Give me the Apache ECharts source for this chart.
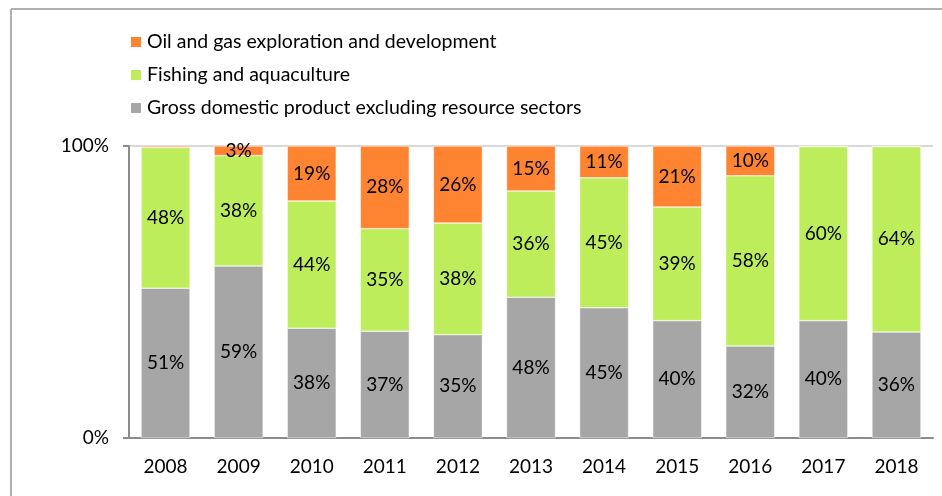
<!DOCTYPE html>
<html>
<head>
<meta charset="utf-8">
<script src="https://cdn.jsdelivr.net/npm/echarts@6/dist/echarts.min.js"></script>
<style>
  html, body { margin: 0; padding: 0; background: #fff; }
  #chart { width: 942px; height: 496px; }
</style>
</head>
<body>
<div id="chart"></div>
<script>
// values (share of total, %)
const years = ['2008', '2009', '2010', '2011', '2012', '2013', '2014', '2015', '2016', '2017', '2018']
const gdpExResource = [51.3, 58.9, 37.6, 36.6, 35.4, 48.2, 44.6, 40.2, 31.5, 40.2, 36.3]
const fishing = [48.2, 37.8, 43.6, 35.1, 38.2, 36.4, 44.5, 38.9, 58.3, 59.6, 63.5]
const oilGas = [0.5, 3.3, 18.8, 28.3, 26.4, 15.4, 10.9, 20.9, 10.2, 0.2, 0.2]
const yTicks = { 0: '0%', 100: '100%' }

const font = 'Lato, "Noto Sans", sans-serif'

const chart = echarts.init(document.getElementById('chart'))

const pctLabel = {
  show: true,
  position: 'inside',
  color: '#000',
  fontFamily: font,
  fontSize: 19,
  formatter: p => (p.value < 1.5 ? '' : Math.round(p.value) + '%')
}

const mkSeries = (name, data, color) => ({
  name: name,
  type: 'bar',
  stack: 'total',
  barCategoryGap: '33%',
  data: data,
  itemStyle: { color: color, borderColor: '#fff', borderWidth: 0.5 },
  label: pctLabel,
  emphasis: { disabled: true }
})

chart.setOption({
  animation: false,
  graphic: [
    { type: 'line', shape: { x1: 11, y1: 9, x2: 942, y2: 9 }, style: { stroke: '#b0b0b0', lineWidth: 2 } },
    { type: 'line', shape: { x1: 11, y1: 9, x2: 11, y2: 496 }, style: { stroke: '#b0b0b0', lineWidth: 2 } }
  ],
  legend: {
    orient: 'vertical',
    left: 129,
    top: 32,
    padding: 0,
    itemWidth: 12,
    itemHeight: 12,
    itemGap: 13,
    icon: 'rect',
    textStyle: { fontFamily: font, fontSize: 19.5, lineHeight: 20, color: '#000' },
    data: ['Oil and gas exploration and development', 'Fishing and aquaculture', 'Gross domestic product excluding resource sectors']
  },
  grid: { left: 129, right: 9, top: 146, bottom: 58 },
  xAxis: {
    type: 'category',
    data: years,
    axisLine: { lineStyle: { color: '#8c8c8c', width: 2 } },
    axisTick: { show: false },
    axisLabel: { color: '#000', fontFamily: font, fontSize: 19, margin: 19 }
  },
  yAxis: {
    type: 'value',
    min: 0,
    max: 100,
    interval: 100,
    axisLine: { show: true, lineStyle: { color: '#8c8c8c', width: 2 } },
    axisTick: { show: true, length: 6, lineStyle: { color: '#8c8c8c', width: 2 } },
    splitLine: { lineStyle: { color: '#d9d9d9', width: 2 } },
    axisLabel: { color: '#000', fontFamily: font, fontSize: 19, margin: 20, formatter: v => yTicks[v] }
  },
  series: [
    mkSeries('Gross domestic product excluding resource sectors', gdpExResource, '#a6a6a6'),
    mkSeries('Fishing and aquaculture', fishing, '#bded5a'),
    mkSeries('Oil and gas exploration and development', oilGas, '#fe8431')
  ]
})
</script>
</body>
</html>
